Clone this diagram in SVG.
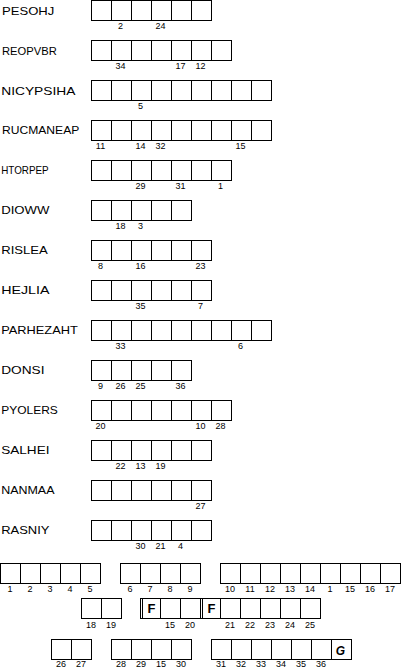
<svg xmlns="http://www.w3.org/2000/svg" width="412" height="668" viewBox="0 0 412 668">
<style>
rect{fill:#fff;stroke:#000;stroke-width:1}
.lbl{font-family:"Liberation Sans",Arial,sans-serif;font-size:11.2px;fill:#000}
.n{font-family:"Liberation Sans",Arial,sans-serif;font-size:9px;fill:#000;text-anchor:middle}
.big{font-family:"Liberation Sans",Arial,sans-serif;font-size:13px;font-weight:bold;fill:#000;text-anchor:middle}
.dbl{stroke:#000;stroke-width:1}
</style>
<rect x="0" y="0" width="412" height="668" style="stroke:none"/>
<g id="row-pesohj">
<text class="lbl" x="2" y="15" textLength="52.3" lengthAdjust="spacingAndGlyphs">PESOHJ</text>
<rect x="91.5" y="0.5" width="20" height="20"/><rect x="111.5" y="0.5" width="20" height="20"/><rect x="131.5" y="0.5" width="20" height="20"/><rect x="151.5" y="0.5" width="20" height="20"/><rect x="171.5" y="0.5" width="20" height="20"/><rect x="191.5" y="0.5" width="20" height="20"/>
<text class="n" x="120.5" y="28.5">2</text><text class="n" x="160.5" y="28.5">24</text>
</g>
<g id="row-reopvbr">
<text class="lbl" x="2" y="55">REOPVBR</text>
<rect x="91.5" y="40.5" width="20" height="20"/><rect x="111.5" y="40.5" width="20" height="20"/><rect x="131.5" y="40.5" width="20" height="20"/><rect x="151.5" y="40.5" width="20" height="20"/><rect x="171.5" y="40.5" width="20" height="20"/><rect x="191.5" y="40.5" width="20" height="20"/><rect x="211.5" y="40.5" width="20" height="20"/>
<text class="n" x="120.5" y="68.5">34</text><text class="n" x="180.5" y="68.5">17</text><text class="n" x="200.5" y="68.5">12</text>
</g>
<g id="row-nicypsiha">
<text class="lbl" x="1.2" y="95" textLength="74.3" lengthAdjust="spacingAndGlyphs">NICYPSIHA</text>
<rect x="91.5" y="80.5" width="20" height="20"/><rect x="111.5" y="80.5" width="20" height="20"/><rect x="131.5" y="80.5" width="20" height="20"/><rect x="151.5" y="80.5" width="20" height="20"/><rect x="171.5" y="80.5" width="20" height="20"/><rect x="191.5" y="80.5" width="20" height="20"/><rect x="211.5" y="80.5" width="20" height="20"/><rect x="231.5" y="80.5" width="20" height="20"/><rect x="251.5" y="80.5" width="20" height="20"/>
<text class="n" x="140.5" y="108.5">5</text>
</g>
<g id="row-rucmaneap">
<text class="lbl" x="2" y="133.5" textLength="77.3" lengthAdjust="spacingAndGlyphs">RUCMANEAP</text>
<rect x="91.5" y="120.5" width="20" height="20"/><rect x="111.5" y="120.5" width="20" height="20"/><rect x="131.5" y="120.5" width="20" height="20"/><rect x="151.5" y="120.5" width="20" height="20"/><rect x="171.5" y="120.5" width="20" height="20"/><rect x="191.5" y="120.5" width="20" height="20"/><rect x="211.5" y="120.5" width="20" height="20"/><rect x="231.5" y="120.5" width="20" height="20"/><rect x="251.5" y="120.5" width="20" height="20"/>
<text class="n" x="100.5" y="148.5">11</text><text class="n" x="140.5" y="148.5">14</text><text class="n" x="160.5" y="148.5">32</text><text class="n" x="240.5" y="148.5">15</text>
</g>
<g id="row-htorpep">
<text class="lbl" x="0" y="0" transform="translate(1.2,173.5) scale(0.88,1)">HTORPEP</text>
<rect x="91.5" y="160.5" width="20" height="20"/><rect x="111.5" y="160.5" width="20" height="20"/><rect x="131.5" y="160.5" width="20" height="20"/><rect x="151.5" y="160.5" width="20" height="20"/><rect x="171.5" y="160.5" width="20" height="20"/><rect x="191.5" y="160.5" width="20" height="20"/><rect x="211.5" y="160.5" width="20" height="20"/>
<text class="n" x="140.5" y="188.5">29</text><text class="n" x="180.5" y="188.5">31</text><text class="n" x="220.5" y="188.5">1</text>
</g>
<g id="row-dioww">
<text class="lbl" x="1.2" y="213.5" textLength="48.3" lengthAdjust="spacingAndGlyphs">DIOWW</text>
<rect x="91.5" y="200.5" width="20" height="20"/><rect x="111.5" y="200.5" width="20" height="20"/><rect x="131.5" y="200.5" width="20" height="20"/><rect x="151.5" y="200.5" width="20" height="20"/><rect x="171.5" y="200.5" width="20" height="20"/>
<text class="n" x="120.5" y="228.5">18</text><text class="n" x="140.5" y="228.5">3</text>
</g>
<g id="row-rislea">
<text class="lbl" x="1.2" y="253.5" textLength="46.6" lengthAdjust="spacingAndGlyphs">RISLEA</text>
<rect x="91.5" y="240.5" width="20" height="20"/><rect x="111.5" y="240.5" width="20" height="20"/><rect x="131.5" y="240.5" width="20" height="20"/><rect x="151.5" y="240.5" width="20" height="20"/><rect x="171.5" y="240.5" width="20" height="20"/><rect x="191.5" y="240.5" width="20" height="20"/>
<text class="n" x="100.5" y="268.5">8</text><text class="n" x="140.5" y="268.5">16</text><text class="n" x="200.5" y="268.5">23</text>
</g>
<g id="row-hejlia">
<text class="lbl" x="1.2" y="293.5" textLength="48.3" lengthAdjust="spacingAndGlyphs">HEJLIA</text>
<rect x="91.5" y="280.5" width="20" height="20"/><rect x="111.5" y="280.5" width="20" height="20"/><rect x="131.5" y="280.5" width="20" height="20"/><rect x="151.5" y="280.5" width="20" height="20"/><rect x="171.5" y="280.5" width="20" height="20"/><rect x="191.5" y="280.5" width="20" height="20"/>
<text class="n" x="140.5" y="308.5">35</text><text class="n" x="200.5" y="308.5">7</text>
</g>
<g id="row-parhezaht">
<text class="lbl" x="1.2" y="333.5" textLength="76.6" lengthAdjust="spacingAndGlyphs">PARHEZAHT</text>
<rect x="91.5" y="320.5" width="20" height="20"/><rect x="111.5" y="320.5" width="20" height="20"/><rect x="131.5" y="320.5" width="20" height="20"/><rect x="151.5" y="320.5" width="20" height="20"/><rect x="171.5" y="320.5" width="20" height="20"/><rect x="191.5" y="320.5" width="20" height="20"/><rect x="211.5" y="320.5" width="20" height="20"/><rect x="231.5" y="320.5" width="20" height="20"/><rect x="251.5" y="320.5" width="20" height="20"/>
<text class="n" x="120.5" y="348.5">33</text><text class="n" x="240.5" y="348.5">6</text>
</g>
<g id="row-donsi">
<text class="lbl" x="1.2" y="373.5" textLength="43.3" lengthAdjust="spacingAndGlyphs">DONSI</text>
<rect x="91.5" y="360.5" width="20" height="20"/><rect x="111.5" y="360.5" width="20" height="20"/><rect x="131.5" y="360.5" width="20" height="20"/><rect x="151.5" y="360.5" width="20" height="20"/><rect x="171.5" y="360.5" width="20" height="20"/>
<text class="n" x="100.5" y="388.5">9</text><text class="n" x="120.5" y="388.5">26</text><text class="n" x="140.5" y="388.5">25</text><text class="n" x="180.5" y="388.5">36</text>
</g>
<g id="row-pyolers">
<text class="lbl" x="1.2" y="413.5" textLength="56.6" lengthAdjust="spacingAndGlyphs">PYOLERS</text>
<rect x="91.5" y="400.5" width="20" height="20"/><rect x="111.5" y="400.5" width="20" height="20"/><rect x="131.5" y="400.5" width="20" height="20"/><rect x="151.5" y="400.5" width="20" height="20"/><rect x="171.5" y="400.5" width="20" height="20"/><rect x="191.5" y="400.5" width="20" height="20"/><rect x="211.5" y="400.5" width="20" height="20"/>
<text class="n" x="100.5" y="428.5">20</text><text class="n" x="200.5" y="428.5">10</text><text class="n" x="220.5" y="428.5">28</text>
</g>
<g id="row-salhei">
<text class="lbl" x="1.2" y="453.5" textLength="48.3" lengthAdjust="spacingAndGlyphs">SALHEI</text>
<rect x="91.5" y="440.5" width="20" height="20"/><rect x="111.5" y="440.5" width="20" height="20"/><rect x="131.5" y="440.5" width="20" height="20"/><rect x="151.5" y="440.5" width="20" height="20"/><rect x="171.5" y="440.5" width="20" height="20"/><rect x="191.5" y="440.5" width="20" height="20"/>
<text class="n" x="120.5" y="468.5">22</text><text class="n" x="140.5" y="468.5">13</text><text class="n" x="160.5" y="468.5">19</text>
</g>
<g id="row-nanmaa">
<text class="lbl" x="1.2" y="493.5" textLength="53.3" lengthAdjust="spacingAndGlyphs">NANMAA</text>
<rect x="91.5" y="480.5" width="20" height="20"/><rect x="111.5" y="480.5" width="20" height="20"/><rect x="131.5" y="480.5" width="20" height="20"/><rect x="151.5" y="480.5" width="20" height="20"/><rect x="171.5" y="480.5" width="20" height="20"/><rect x="191.5" y="480.5" width="20" height="20"/>
<text class="n" x="200.5" y="508.5">27</text>
</g>
<g id="row-rasniy">
<text class="lbl" x="1.2" y="533.5" textLength="48.3" lengthAdjust="spacingAndGlyphs">RASNIY</text>
<rect x="91.5" y="520.5" width="20" height="20"/><rect x="111.5" y="520.5" width="20" height="20"/><rect x="131.5" y="520.5" width="20" height="20"/><rect x="151.5" y="520.5" width="20" height="20"/><rect x="171.5" y="520.5" width="20" height="20"/><rect x="191.5" y="520.5" width="20" height="20"/>
<text class="n" x="140.5" y="548.5">30</text><text class="n" x="160.5" y="548.5">21</text><text class="n" x="180.5" y="548.5">4</text>
</g>
<g id="answer-row-1">
<rect x="0.5" y="563.5" width="20" height="20"/><rect x="20.5" y="563.5" width="20" height="20"/><rect x="40.5" y="563.5" width="20" height="20"/><rect x="60.5" y="563.5" width="20" height="20"/><rect x="80.5" y="563.5" width="20" height="20"/>
<text class="n" x="10" y="591.5">1</text><text class="n" x="30" y="591.5">2</text><text class="n" x="50" y="591.5">3</text><text class="n" x="70" y="591.5">4</text><text class="n" x="90" y="591.5">5</text>
<rect x="120.5" y="563.5" width="20" height="20"/><rect x="140.5" y="563.5" width="20" height="20"/><rect x="160.5" y="563.5" width="20" height="20"/><rect x="180.5" y="563.5" width="20" height="20"/>
<text class="n" x="130" y="591.5">6</text><text class="n" x="150" y="591.5">7</text><text class="n" x="170" y="591.5">8</text><text class="n" x="190" y="591.5">9</text>
<rect x="220.5" y="563.5" width="20" height="20"/><rect x="240.5" y="563.5" width="20" height="20"/><rect x="260.5" y="563.5" width="20" height="20"/><rect x="280.5" y="563.5" width="20" height="20"/><rect x="300.5" y="563.5" width="20" height="20"/><rect x="320.5" y="563.5" width="20" height="20"/><rect x="340.5" y="563.5" width="20" height="20"/><rect x="360.5" y="563.5" width="20" height="20"/><rect x="380.5" y="563.5" width="20" height="20"/>
<text class="n" x="230" y="591.5">10</text><text class="n" x="250" y="591.5">11</text><text class="n" x="270" y="591.5">12</text><text class="n" x="290" y="591.5">13</text><text class="n" x="310" y="591.5">14</text><text class="n" x="330" y="591.5">1</text><text class="n" x="350" y="591.5">15</text><text class="n" x="370" y="591.5">16</text><text class="n" x="390" y="591.5">17</text>
</g>
<g id="answer-row-2">
<rect x="81.5" y="598.5" width="20" height="20"/><rect x="101.5" y="598.5" width="20" height="20"/>
<text class="n" x="91" y="627.5">18</text><text class="n" x="111" y="627.5">19</text>
<rect x="140.5" y="598.5" width="20" height="20"/><rect x="160.5" y="598.5" width="20" height="20"/><rect x="180.5" y="598.5" width="20" height="20"/><rect x="200.5" y="598.5" width="20" height="20"/><rect x="220.5" y="598.5" width="20" height="20"/><rect x="240.5" y="598.5" width="20" height="20"/><rect x="260.5" y="598.5" width="20" height="20"/><rect x="280.5" y="598.5" width="20" height="20"/><rect x="300.5" y="598.5" width="20" height="20"/>
<line class="dbl" x1="142.5" y1="598.5" x2="142.5" y2="618.5"/><line class="dbl" x1="202.5" y1="598.5" x2="202.5" y2="618.5"/>
<text class="big" x="151.5" y="612.5">F</text><text class="big" x="211.5" y="612.5">F</text>
<text class="n" x="170" y="627.5">15</text><text class="n" x="190" y="627.5">20</text><text class="n" x="230" y="627.5">21</text><text class="n" x="250" y="627.5">22</text><text class="n" x="270" y="627.5">23</text><text class="n" x="290" y="627.5">24</text><text class="n" x="310" y="627.5">25</text>
</g>
<g id="answer-row-3">
<rect x="51.5" y="639.5" width="20" height="20"/><rect x="71.5" y="639.5" width="20" height="20"/>
<text class="n" x="61" y="666.5">26</text><text class="n" x="81" y="666.5">27</text>
<rect x="111.5" y="639.5" width="20" height="20"/><rect x="131.5" y="639.5" width="20" height="20"/><rect x="151.5" y="639.5" width="20" height="20"/><rect x="171.5" y="639.5" width="20" height="20"/>
<text class="n" x="121" y="666.5">28</text><text class="n" x="141" y="666.5">29</text><text class="n" x="161" y="666.5">15</text><text class="n" x="181" y="666.5">30</text>
<rect x="211.5" y="639.5" width="20" height="20"/><rect x="231.5" y="639.5" width="20" height="20"/><rect x="251.5" y="639.5" width="20" height="20"/><rect x="271.5" y="639.5" width="20" height="20"/><rect x="291.5" y="639.5" width="20" height="20"/><rect x="311.5" y="639.5" width="20" height="20"/><rect x="331.5" y="639.5" width="20" height="20"/>
<text class="big" x="340.5" y="654.5" font-style="italic" style="font-size:12px">G</text>
<text class="n" x="221" y="666.5">31</text><text class="n" x="241" y="666.5">32</text><text class="n" x="261" y="666.5">33</text><text class="n" x="281" y="666.5">34</text><text class="n" x="301" y="666.5">35</text><text class="n" x="321" y="666.5">36</text>
</g>
</svg>
